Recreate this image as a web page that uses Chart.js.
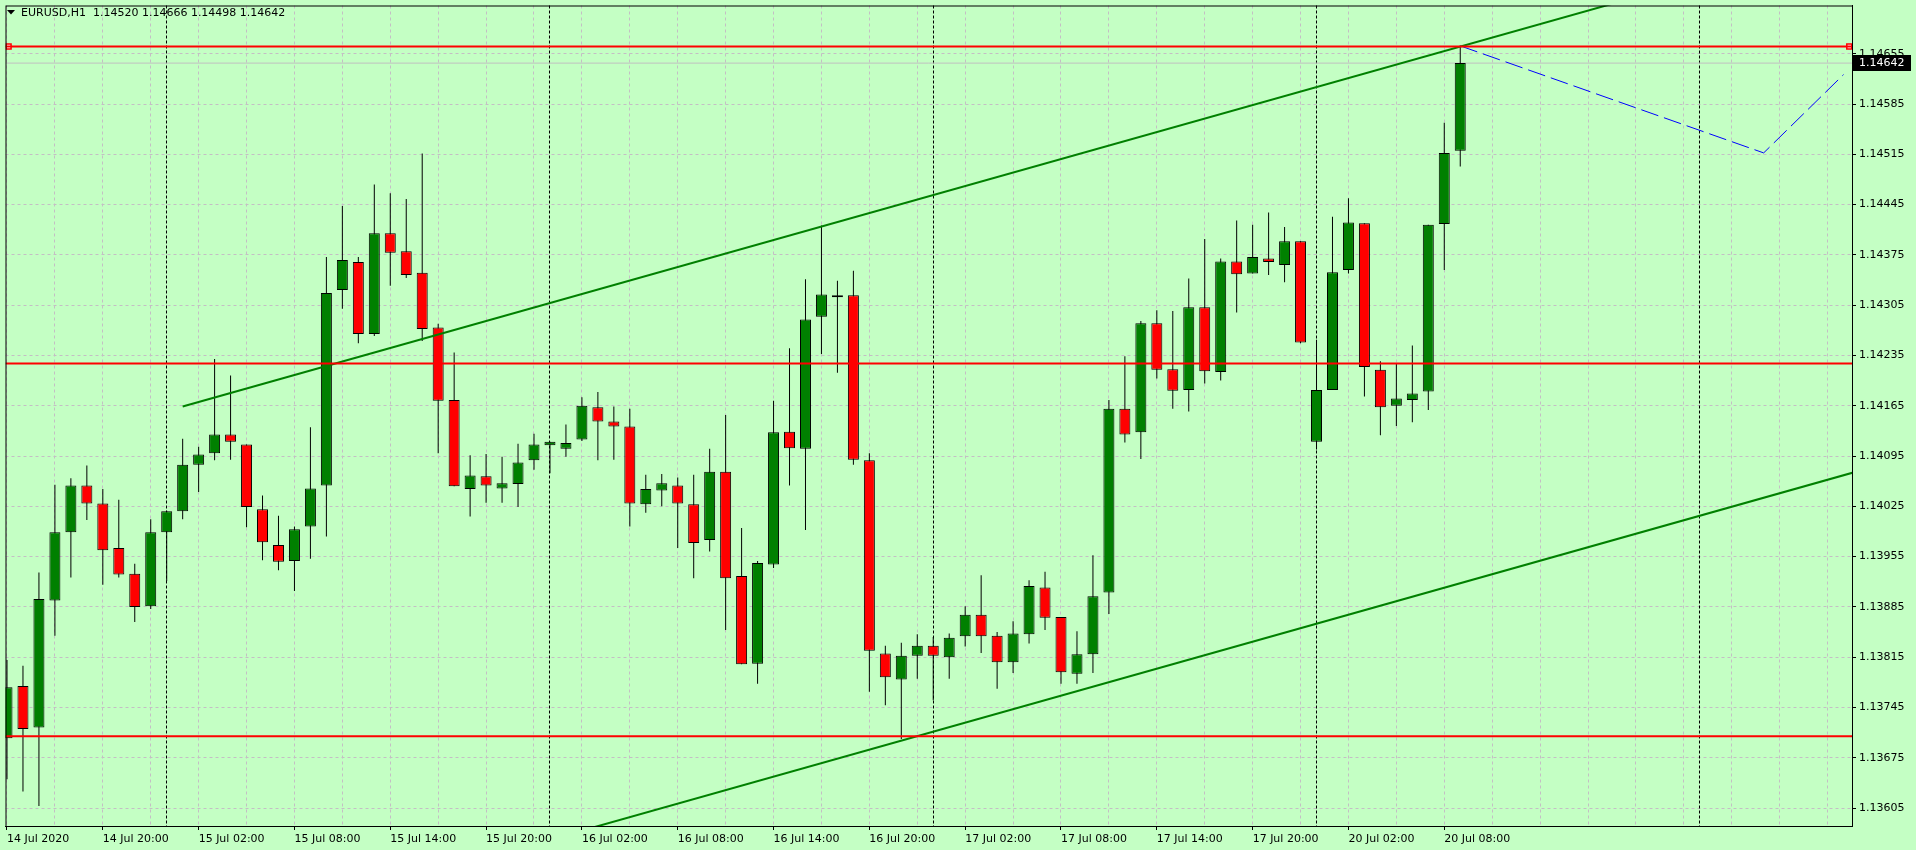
<!DOCTYPE html>
<html>
<head>
<meta charset="utf-8">
<title>EURUSD,H1</title>
<script src="https://cdn.jsdelivr.net/npm/chart.js@4.4.1/dist/chart.umd.min.js"></script>
<style>
  html, body { margin: 0; padding: 0; background: #c4ffc4; }
  #wrap { position: relative; width: 1916px; height: 850px; }
</style>
</head>
<body>
<div id="wrap"><canvas id="chart" width="1916" height="850"></canvas></div>
<script>
// EURUSD H1, 14 Jul 14:00 -> 20 Jul 09:00 (one entry per bar)
const SYMBOL = 'EURUSD,H1';

const opens = [
  1.13702, 1.13775, 1.13717, 1.13894, 1.13989, 1.14054, 1.14029, 1.13967, 1.13931, 1.13886,
  1.13989, 1.14018, 1.14083, 1.14099, 1.14125, 1.14111, 1.14021, 1.13971, 1.13949, 1.13997,
  1.14054, 1.14326, 1.14365, 1.14265, 1.14405, 1.14380, 1.14350, 1.14274, 1.14173, 1.14049,
  1.14067, 1.14050, 1.14056, 1.14089, 1.14110, 1.14105, 1.14118, 1.14163, 1.14143, 1.14136,
  1.14028, 1.14047, 1.14054, 1.14028, 1.13978, 1.14073, 1.13928, 1.13806, 1.13944, 1.14129,
  1.14105, 1.14289, 1.14319, 1.14319, 1.14089, 1.13820, 1.13784, 1.13817, 1.13831, 1.13815,
  1.13844, 1.13874, 1.13845, 1.13808, 1.13847, 1.13912, 1.13871, 1.13792, 1.13819, 1.13905,
  1.14161, 1.14128, 1.14280, 1.14216, 1.14187, 1.14302, 1.14212, 1.14366, 1.14349, 1.14370,
  1.14361, 1.14394, 1.14115, 1.14187, 1.14354, 1.14419, 1.14215, 1.14165, 1.14173, 1.14185,
  1.14418, 1.14520
];
const highs = [
  1.13811, 1.13803, 1.13933, 1.14055, 1.14064, 1.14082, 1.14049, 1.14034, 1.13945, 1.14007,
  1.14019, 1.14119, 1.14108, 1.14230, 1.14207, 1.14111, 1.14040, 1.14012, 1.13997, 1.14135,
  1.14372, 1.14443, 1.14372, 1.14473, 1.14461, 1.14453, 1.14516, 1.14279, 1.14239, 1.14096,
  1.14098, 1.14094, 1.14112, 1.14126, 1.14115, 1.14139, 1.14177, 1.14184, 1.14164, 1.14161,
  1.14069, 1.14070, 1.14065, 1.14069, 1.14105, 1.14152, 1.13995, 1.13949, 1.14172, 1.14245,
  1.14341, 1.14416, 1.14339, 1.14353, 1.14099, 1.13831, 1.13835, 1.13847, 1.13843, 1.13848,
  1.13886, 1.13929, 1.13850, 1.13865, 1.13922, 1.13934, 1.13871, 1.13851, 1.13957, 1.14173,
  1.14234, 1.14283, 1.14298, 1.14297, 1.14342, 1.14397, 1.14370, 1.14423, 1.14417, 1.14434,
  1.14414, 1.14394, 1.14257, 1.14428, 1.14454, 1.14419, 1.14227, 1.14223, 1.14249, 1.14417,
  1.14559, 1.14666
];
const lows = [
  1.13645, 1.13628, 1.13608, 1.13845, 1.13926, 1.14006, 1.13916, 1.13926, 1.13864, 1.13882,
  1.13921, 1.14007, 1.14045, 1.14089, 1.14090, 1.13996, 1.13950, 1.13936, 1.13907, 1.13952,
  1.13983, 1.14300, 1.14252, 1.14262, 1.14332, 1.14343, 1.14255, 1.14099, 1.14053, 1.14011,
  1.14030, 1.14030, 1.14024, 1.14076, 1.14071, 1.14094, 1.14116, 1.14089, 1.14090, 1.13997,
  1.14016, 1.14025, 1.13967, 1.13925, 1.13962, 1.13853, 1.13805, 1.13778, 1.13939, 1.14054,
  1.13992, 1.14237, 1.14211, 1.14083, 1.13767, 1.13748, 1.13701, 1.13785, 1.13755, 1.13785,
  1.13830, 1.13821, 1.13771, 1.13793, 1.13834, 1.13853, 1.13778, 1.13778, 1.13793, 1.13875,
  1.14114, 1.14091, 1.14203, 1.14161, 1.14157, 1.14196, 1.14200, 1.14295, 1.14349, 1.14347,
  1.14337, 1.14252, 1.14104, 1.14187, 1.14349, 1.14178, 1.14124, 1.14137, 1.14142, 1.14159,
  1.14354, 1.14498
];
const closes = [
  1.13773, 1.13715, 1.13896, 1.13989, 1.14054, 1.14029, 1.13964, 1.13930, 1.13885, 1.13989,
  1.14018, 1.14083, 1.14097, 1.14125, 1.14115, 1.14024, 1.13975, 1.13948, 1.13993, 1.14050,
  1.14322, 1.14368, 1.14265, 1.14405, 1.14378, 1.14347, 1.14272, 1.14172, 1.14053, 1.14068,
  1.14054, 1.14057, 1.14086, 1.14111, 1.14115, 1.14113, 1.14165, 1.14143, 1.14136, 1.14029,
  1.14049, 1.14057, 1.14029, 1.13974, 1.14073, 1.13925, 1.13805, 1.13946, 1.14128, 1.14106,
  1.14285, 1.14320, 1.14316, 1.14090, 1.13824, 1.13787, 1.13817, 1.13831, 1.13817, 1.13842,
  1.13874, 1.13844, 1.13808, 1.13848, 1.13914, 1.13870, 1.13794, 1.13819, 1.13900, 1.14161,
  1.14125, 1.14280, 1.14215, 1.14186, 1.14302, 1.14213, 1.14366, 1.14348, 1.14372, 1.14365,
  1.14394, 1.14253, 1.14187, 1.14351, 1.14420, 1.14219, 1.14163, 1.14175, 1.14182, 1.14417,
  1.14517, 1.14642
];

// time axis labels, one every 6 bars starting at bar 0
const xLabels = [
  '14 Jul 2020', '14 Jul 20:00', '15 Jul 02:00', '15 Jul 08:00', '15 Jul 14:00', '15 Jul 20:00',
  '16 Jul 02:00', '16 Jul 08:00', '16 Jul 14:00', '16 Jul 20:00', '17 Jul 02:00', '17 Jul 08:00',
  '17 Jul 14:00', '17 Jul 20:00', '20 Jul 02:00', '20 Jul 08:00'
];
const labelStep = 6;
const gridStep = 3;
const yTicks = [
  1.13605, 1.13675, 1.13745, 1.13815, 1.13885, 1.13955, 1.14025, 1.14095,
  1.14165, 1.14235, 1.14305, 1.14375, 1.14445, 1.14515, 1.14585, 1.14655
];
const daySeparators = [10, 34, 58, 82, 106];   // bar index of 00:00 each day

// drawn objects
const levels = [1.14665, 1.14224, 1.13705];     // red horizontal lines
const levelMarks = [0.1, 115.36];               // selection squares on the top line
const channelX = [11, 91];
const channelUpper = [1.14164, 1.14665];
const channelLower = [1.13417, 1.13918];
const forecastX = [91, 110, 115];
const forecastY = [1.14666, 1.14517, 1.14626];

// visible window
const X_MIN = -0.09375, X_MAX = 115.53125;
const Y_MIN = 1.13580, Y_MAX = 1.147222;

const BULL = '#008000', BEAR = '#ff0000', GRID = '#c4bec4';

Chart.defaults.font.family = '"DejaVu Sans", sans-serif';
Chart.defaults.font.size = 11;
Chart.defaults.color = '#000';

const idx = opens.map((_, i) => i);
const last = closes.length - 1;

function ray(xs, ys, xEnd) {
  const k = (ys[1] - ys[0]) / (xs[1] - xs[0]);
  return [{ x: xs[0], y: ys[0] }, { x: xEnd, y: ys[0] + k * (xEnd - xs[0]) }];
}

const lineBase = { type: 'line', pointRadius: 0, fill: false, tension: 0, order: 0 };

const datasets = [
  // red levels
  ...levels.map(v => ({
    ...lineBase, data: [{ x: X_MIN, y: v }, { x: X_MAX, y: v }],
    borderColor: '#ff0000', borderWidth: 2
  })),
  {
    ...lineBase, showLine: false,
    data: levelMarks.map(x => ({ x, y: levels[0] })),
    pointStyle: 'rect', pointRadius: 3.5, pointBorderWidth: 1.5,
    pointBorderColor: '#ff0000', pointBackgroundColor: '#ffffff'
  },
  // channel
  { ...lineBase, data: ray(channelX, channelUpper, X_MAX + 10), borderColor: '#008000', borderWidth: 2 },
  { ...lineBase, data: ray(channelX, channelLower, X_MAX + 10), borderColor: '#008000', borderWidth: 2 },
  // forecast path
  {
    ...lineBase, data: forecastX.map((x, i) => ({ x, y: forecastY[i] })),
    borderColor: '#0000ff', borderWidth: 1, borderDash: [18, 6]
  },
  // bid line
  {
    ...lineBase, order: 4, data: [{ x: X_MIN, y: closes[last] }, { x: X_MAX, y: closes[last] }],
    borderColor: '#c0c0c0', borderWidth: 1
  },
  // candle bodies
  {
    type: 'bar', order: 2, grouped: false,
    data: idx.map(i => ({ x: i, y: [opens[i], closes[i]] })),
    backgroundColor: idx.map(i => closes[i] >= opens[i] ? BULL : BEAR),
    borderColor: '#000', borderWidth: 1, borderSkipped: false,
    barThickness: 11, inflateAmount: 0
  },
  // wicks
  {
    type: 'bar', order: 3, grouped: false,
    data: idx.map(i => ({ x: i, y: [lows[i], highs[i]] })),
    backgroundColor: '#000', borderWidth: 0,
    barThickness: 1, inflateAmount: 0
  }
];

const mtPlugin = {
  id: 'mt4',
  beforeDatasetsDraw(chart) {
    const { ctx, chartArea: a, scales: { x } } = chart;
    ctx.save();
    ctx.strokeStyle = '#000';
    ctx.lineWidth = 1;
    ctx.setLineDash([3, 2]);
    daySeparators.forEach(b => {
      const px = Math.round(x.getPixelForValue(b) - 0.5) + 0.5;
      ctx.beginPath();
      ctx.moveTo(px, a.top);
      ctx.lineTo(px, a.bottom);
      ctx.stroke();
    });
    ctx.restore();
  },
  afterDraw(chart) {
    const { ctx, chartArea: a, scales: { y } } = chart;
    ctx.save();
    // frame
    ctx.strokeStyle = '#000';
    ctx.lineWidth = 1;
    ctx.strokeRect(a.left + 0.5, a.top + 0.5, a.right - a.left, a.bottom - a.top);

    // bid price tag
    const py = y.getPixelForValue(closes[last]);
    ctx.fillStyle = '#000';
    ctx.fillRect(a.right + 1, Math.round(py) - 8, 58, 16);
    ctx.fillStyle = '#fff';
    ctx.font = '11px "DejaVu Sans"';
    ctx.textBaseline = 'middle';
    ctx.textAlign = 'left';
    ctx.fillText(closes[last].toFixed(5), a.right + 7, py);

    // header
    ctx.fillStyle = '#000';
    ctx.beginPath();
    ctx.moveTo(7, 10); ctx.lineTo(15, 10); ctx.lineTo(11, 14.5);
    ctx.closePath();
    ctx.fill();
    const head = SYMBOL + '  ' + [opens[last], highs[last], lows[last], closes[last]]
      .map(v => v.toFixed(5)).join(' ');
    ctx.fillText(head, 21, 13);
    ctx.restore();
  }
};

new Chart(document.getElementById('chart'), {
  type: 'bar',
  data: { datasets },
  options: {
    responsive: false,
    devicePixelRatio: 1,
    animation: false,
    layout: { padding: { left: 2, top: 2, right: 0, bottom: 0 } },
    plugins: { legend: { display: false }, tooltip: { enabled: false } },
    scales: {
      x: {
        type: 'linear', min: X_MIN, max: X_MAX, offset: false,
        afterBuildTicks: s => {
          s.ticks = [];
          for (let v = 0; v <= X_MAX; v += gridStep) s.ticks.push({ value: v });
        },
        afterFit: s => { s.height = 24; s.paddingLeft = 0; s.paddingRight = 0; },
        ticks: {
          autoSkip: false, maxRotation: 0, minRotation: 0, align: 'start', padding: 3,
          callback: v => (v % labelStep === 0 && v / labelStep < xLabels.length) ? xLabels[v / labelStep] : ''
        },
        grid: {
          color: GRID, lineWidth: 1, tickLength: 4, offset: false,
          tickColor: c => (c.tick && c.tick.label) ? '#000' : 'rgba(0,0,0,0)'
        },
        border: { color: '#000', width: 1, dash: [3, 3] }
      },
      y: {
        position: 'right', min: Y_MIN, max: Y_MAX, beginAtZero: false,
        afterBuildTicks: s => { s.ticks = yTicks.map(v => ({ value: v })); },
        afterFit: s => { s.width = 64; s.paddingTop = 0; s.paddingBottom = 0; },
        ticks: { padding: 3, crossAlign: 'near', callback: v => v.toFixed(5) },
        grid: { color: GRID, lineWidth: 1, tickLength: 4, tickColor: '#000' },
        border: { color: '#000', width: 1, dash: [3, 3] }
      }
    }
  },
  plugins: [mtPlugin]
});
</script>
</body>
</html>
